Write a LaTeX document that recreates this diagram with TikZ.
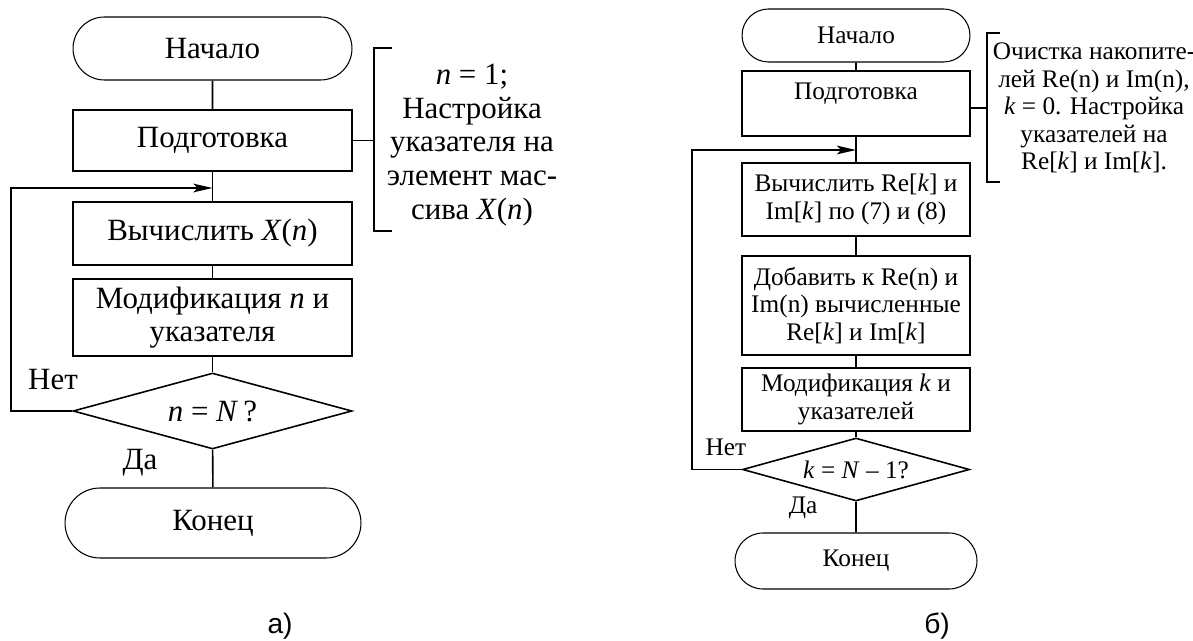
\documentclass[tikz,border=0pt]{standalone}
\usepackage{fontspec}
\setmainfont{Liberation Serif}
\newfontfamily\capfont{Liberation Sans}
\usepackage{tikz}
\usetikzlibrary{shapes.misc,shapes.geometric,arrows.meta,positioning}
\tikzset{>={Stealth[length=11pt,width=5pt,inset=2.5pt]}}

\begin{document}
\begin{tikzpicture}[x=0.02cm, y=-0.02cm,
                    line width=0.9pt,
                    bigtxt/.style={font=\fontsize{17.6}{19.2}\selectfont},
                    smalltxt/.style={font=\fontsize{14.4}{15.6}\selectfont},
                    term/.style={draw, rounded rectangle, line width=0.6pt, inner sep=0pt},
                    block/.style={draw, rectangle, inner sep=0pt, align=center},
                    cond/.style={draw, diamond, inner sep=0pt, aspect=3.6},
                    note/.style={align=center, inner sep=0pt},
                   ]

\useasboundingbox (0,0) rectangle (1193,641);

% a)
\begin{scope}[bigtxt]
\node[term, minimum width=5.58cm, minimum height=1.26cm] (startA) at (212.5,48.5) {Начало};
\node[block, minimum width=5.58cm, minimum height=1.22cm] (prepA) at (212.5,140.5) {Подготовка};
\node[block, minimum width=5.58cm, minimum height=1.26cm] (calcA) at (212.5,233.5) {Вычислить \textit{X}(\textit{n})};
\node[block, minimum width=5.58cm, minimum height=1.54cm] (modA) at (212.5,317.5) {Модификация \textit{n} и\\указателя};
\node[cond, minimum width=5.58cm, minimum height=1.52cm] (decA) at (212.5,411) {\textit{n} = \textit{N}\,?};
\node[term, minimum width=5.92cm, minimum height=1.40cm] (endA) at (213,523) {Конец};

\node[note] (noteA) at (472,145) {\textit{n} = 1;\\Настройка\\указателя на\\элемент мас-\\сива \textit{X}(\textit{n})};
\node (noA) at (53,380) {Нет};
\node (yesA) at (140,463) {Да};
\end{scope}

\coordinate (joinA) at (212.5,188);
\coordinate (brAt) at (392,48);
\coordinate (brAb) at (392,231);
\coordinate (brAm) at (374,140.5);

\draw (startA) -- (prepA);
\draw (prepA) -- (calcA);
\draw (calcA) -- (modA);
\draw (modA) -- (decA);
\draw (decA) -- (endA);
\draw[->] (decA.west) -- ++(-61,0) |- (joinA);
\draw (prepA.east) -- (brAm);
\draw (brAt) -- (brAt -| brAm) -- (brAb -| brAm) -- (brAb);

% b)
\begin{scope}[smalltxt]
\node[term, minimum width=4.56cm, minimum height=1.06cm] (startB) at (856,35.5) {Начало};
\node[block, minimum width=4.56cm, text height=0.58cm, text depth=0.72cm] (prepB) at (856,103.5) {Подготовка};
\node[block, minimum width=4.56cm, minimum height=1.46cm] (calcB) at (856,199.5) {Вычислить Re[\textit{k}] и\\Im[\textit{k}] по (7) и (8)};
\node[block, minimum width=4.56cm, minimum height=1.98cm] (addB) at (856,305.5) {Добавить к Re(n) и\\Im(n) вычисленные\\Re[\textit{k}] и Im[\textit{k}]};
\node[block, minimum width=4.56cm, minimum height=1.26cm] (modB) at (856,399.5) {Модификация \textit{k} и\\указателей};
\node[cond, minimum width=4.54cm, minimum height=1.26cm] (decB) at (856,469.5) {\textit{k} = \textit{N} – 1?};
\node[term, minimum width=4.84cm, minimum height=1.12cm] (endB) at (856,561) {Конец};

\node[note] (noteB) at (1094,108) {Очистка накопите-\\лей Re(n) и Im(n),\\\textit{k} = 0. Настройка\\указателей на\\Re[\textit{k}] и Im[\textit{k}].};
\node (noB) at (726,447) {Нет};
\node (yesB) at (803,508) {Да};
\end{scope}

\coordinate (joinB) at (856,150);
\coordinate (brBt) at (1000,33);
\coordinate (brBb) at (1000,182);
\coordinate (brBm) at (987,108);

\draw (startB) -- (prepB);
\draw (prepB) -- (calcB);
\draw (calcB) -- (addB);
\draw (addB) -- (modB);
\draw (modB) -- (decB);
\draw (decB) -- (endB);
\draw[->] (decB.west) -- ++(-50,0) |- (joinB);
\draw (prepB.east |- brBm) -- (brBm);
\draw (brBt) -- (brBt -| brBm) -- (brBb -| brBm) -- (brBb);

% captions
\node[font=\capfont\fontsize{16}{18}\selectfont] (capA) at (280,626) {а)};
\node[font=\capfont\fontsize{16}{18}\selectfont] (capB) at (937,626) {б)};

\end{tikzpicture}
\end{document}
